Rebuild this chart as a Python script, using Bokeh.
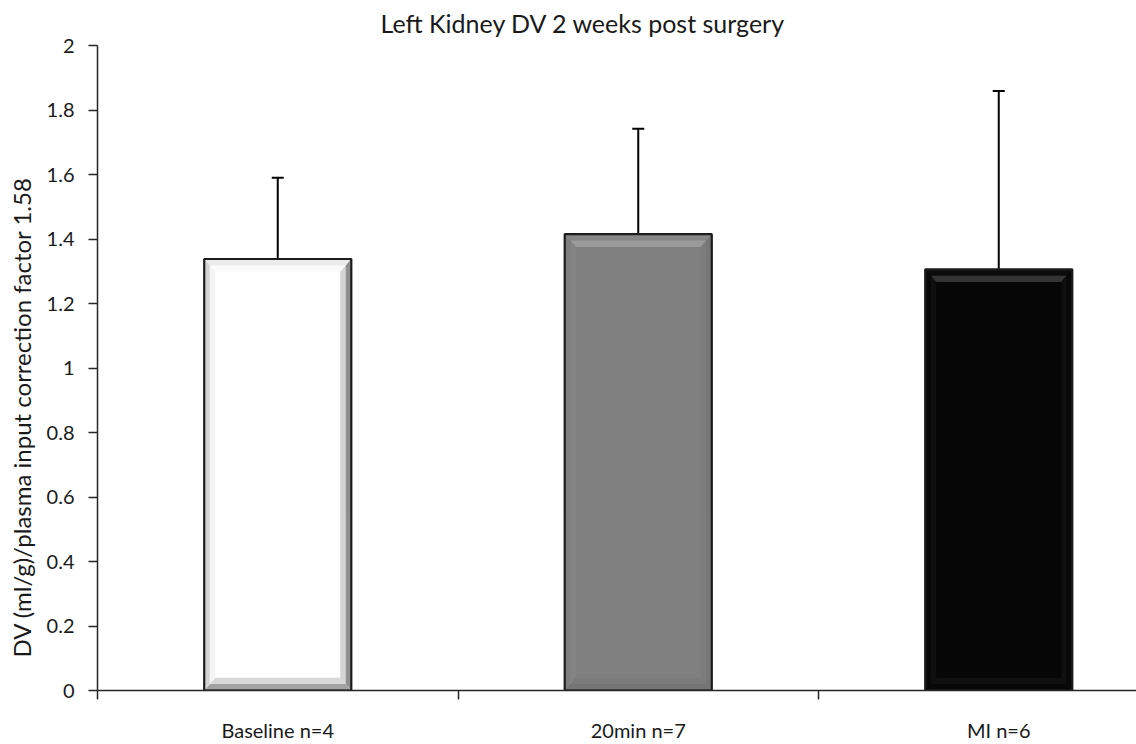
import math
from bokeh.plotting import figure
from bokeh.models import Range1d, FixedTicker, Title, Whisker, ColumnDataSource, TeeHead
from bokeh.embed import file_html
from bokeh.resources import INLINE

# ---- data ----
categories = ["Baseline n=4", "20min n=7", "MI n=6"]
means = [1.338, 1.415, 1.306]
errors = [0.252, 0.327, 0.553]
bar_colors = ["#ffffff", "#808080", "#060606"]
y_ticks = [0, 0.2, 0.4, 0.6, 0.8, 1, 1.2, 1.4, 1.6, 1.8, 2]
y_tick_labels = ["0", "0.2", "0.4", "0.6", "0.8", "1", "1.2", "1.4", "1.6", "1.8", "2"]

title_text = "Left Kidney DV 2 weeks post surgery"
y_title = "DV (ml/g)/plasma input correction factor 1.58"

# ---- layout ----
W, H = 1136, 744
LEFT, TOP, BOTTOM = 97, 45, 44
CAT_PX = 360.5                      # pixel width of one category slot
frame_w = W - LEFT
frame_h = H - TOP - BOTTOM
x_end = frame_w / CAT_PX
y_end = 2.0
px_x = 1.0 / CAT_PX                 # one pixel in x data units
px_y = y_end / frame_h              # one pixel in y data units
FONT = "Lato"
TEXT = "#1a1a1a"
AXIS = "#262626"
BAR_W = 0.408

p = figure(width=W, height=H, output_backend="svg", toolbar_location=None,
           x_range=Range1d(0, x_end), y_range=Range1d(0, y_end),
           min_border_left=LEFT, min_border_right=0,
           min_border_top=TOP, min_border_bottom=BOTTOM)
p.outline_line_color = None
p.xgrid.visible = False
p.ygrid.visible = False
p.background_fill_color = "white"
p.border_fill_color = "white"

centers = [i + 0.5 for i in range(len(categories))]
lefts = [c - BAR_W / 2 for c in centers]
rights = [c + BAR_W / 2 for c in centers]

# bar bodies
p.quad(left=lefts, right=rights, bottom=0, top=means,
       fill_color=bar_colors, line_color=None)

# bevel shading: (inner colour, outer colour) per side
bevels = [
    {"top": ("#fbfbfb", "#ececec"), "right": ("#d4d4d4", "#909090"),
     "bottom": ("#d8d8d8", "#a2a2a2"), "left": ("#f4f4f4", "#d4d4d4")},
    {"top": ("#9b9b9b", "#868686"), "right": ("#7c7c7c", "#767676"),
     "bottom": ("#7b7b7b", "#747474"), "left": ("#848484", "#7f7f7f")},
    {"top": ("#343434", "#0c0c0c"), "right": ("#0f0f0f", "#080808"),
     "bottom": ("#101010", "#080808"), "left": ("#0f0f0f", "#080808")},
]
BEV_X, BEV_Y = 11, 13


def bevel_shapes(L, R, T, dx, dy):
    return {
        "top": ([L, R, R - dx, L + dx], [T, T, T - dy, T - dy]),
        "right": ([R, R, R - dx, R - dx], [0, T, T - dy, dy]),
        "bottom": ([L, R, R - dx, L + dx], [0, 0, dy, dy]),
        "left": ([L, L, L + dx, L + dx], [0, T, T - dy, dy]),
    }


for i in range(len(categories)):
    full = bevel_shapes(lefts[i], rights[i], means[i], BEV_X * px_x, BEV_Y * px_y)
    half = bevel_shapes(lefts[i], rights[i], means[i], BEV_X * 0.5 * px_x, BEV_Y * 0.5 * px_y)
    for side in ("top", "bottom", "left", "right"):
        inner, outer = bevels[i][side]
        xs, ys = full[side]
        p.patch(xs, ys, fill_color=inner, line_color=None)
        xs, ys = half[side]
        p.patch(xs, ys, fill_color=outer, line_color=None)

# bar outlines
p.quad(left=lefts, right=rights, bottom=0, top=means,
       fill_color=None, line_color="#1c1c1c", line_width=2.2)

# upper error bars
upper = [m + e for m, e in zip(means, errors)]
src = ColumnDataSource(dict(x=centers, lower=means, upper=upper))
p.add_layout(Whisker(source=src, base="x", lower="lower", upper="upper",
                     dimension="height", line_color="black", line_width=2,
                     upper_head=TeeHead(size=12, line_color="black", line_width=2),
                     lower_head=None))

# x axis: labels at slot centres, ticks at slot boundaries
xa = p.xaxis[0]
xa.ticker = FixedTicker(ticks=centers, minor_ticks=list(range(len(categories))))
xa.major_label_overrides = {c: lab for c, lab in zip(centers, categories)}
xa.major_tick_line_color = None
xa.major_tick_out = 0
xa.major_tick_in = 0
xa.minor_tick_out = 9
xa.minor_tick_in = 0
xa.minor_tick_line_color = AXIS
xa.minor_tick_line_width = 1.5
xa.axis_line_color = AXIS
xa.axis_line_width = 1.5
xa.major_label_standoff = 18
xa.major_label_text_font = FONT
xa.major_label_text_font_size = "20px"
xa.major_label_text_color = TEXT

# y axis
ya = p.yaxis[0]
ya.ticker = FixedTicker(ticks=y_ticks, minor_ticks=[])
ya.major_label_overrides = {t: lab for t, lab in zip(y_ticks, y_tick_labels)}
ya.major_tick_out = 9
ya.major_tick_in = 0
ya.major_tick_line_color = AXIS
ya.major_tick_line_width = 1.5
ya.axis_line_color = AXIS
ya.axis_line_width = 1.5
ya.major_label_standoff = 14
ya.major_label_text_font = FONT
ya.major_label_text_font_size = "20px"
ya.major_label_text_color = TEXT

# chart title above, y title on the left
p.add_layout(Title(text=title_text, align="left", offset=283, standoff=12,
                   vertical_align="top",
                   text_font=FONT, text_font_size="25px", text_font_style="normal",
                   text_color=TEXT), "above")
p.add_layout(Title(text=y_title, align="left", offset=33, standoff=12,
                   vertical_align="top",
                   text_font=FONT, text_font_size="24px", text_font_style="normal",
                   text_color=TEXT), "left")

open("out.html", "w").write(file_html(p, INLINE))
